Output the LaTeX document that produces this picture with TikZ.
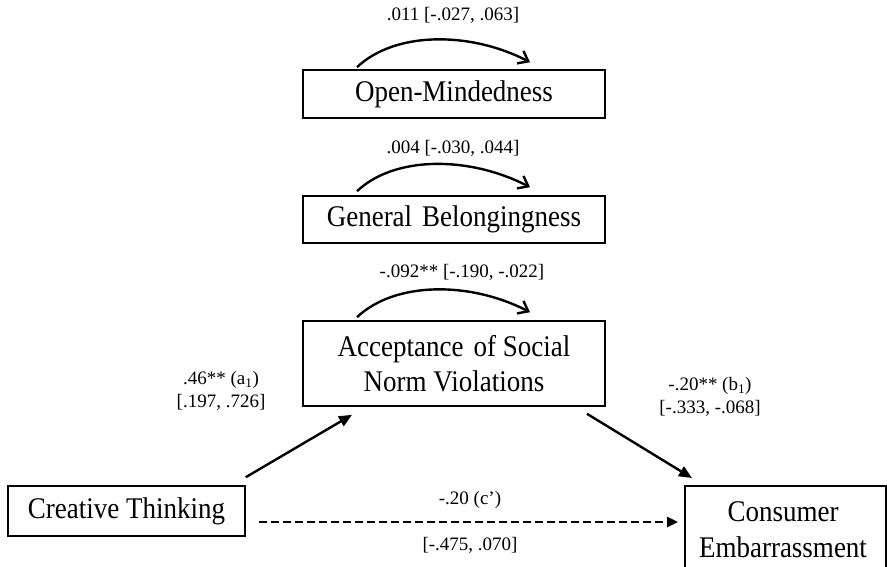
\documentclass[tikz,border=0pt]{standalone}
\usepackage{fontspec}
\setmainfont{Liberation Serif}
\newfontfamily\boxfont[FakeStretch=0.9]{Liberation Serif}
\usetikzlibrary{arrows.meta}
\begin{document}
\begin{tikzpicture}[x=1pt,y=-1pt,
  varbox/.style={draw, line width=1.6pt, inner sep=0pt, align=center, font=\boxfont\fontsize{30}{35}\selectfont},
  lbl/.style={inner sep=0pt, align=center, font=\fontsize{19}{23}\selectfont},
  arcarrow/.style={line width=2.4pt, -{Straight Barb[length=9pt,width=14pt,line width=2.4pt]}},
  patharrow/.style={line width=2.4pt, -{Triangle[length=13pt,width=11pt]}},
  dasharrow/.style={line width=2.4pt, dash pattern=on 8pt off 4pt, -{Triangle[length=11pt,width=10pt]}}]
\useasboundingbox (0,0) rectangle (887,567);
\clip (0,0) rectangle (887,567);
% boxes
\node[varbox, minimum width=302pt, minimum height=48pt] (om) at (454,94) {Open-Mindedness};
\node[varbox, minimum width=302pt, minimum height=47pt] (gb) at (454,219.5) {General\,\,Belongingness};
\node[varbox, minimum width=302pt, minimum height=85pt] (ac) at (454,363.5) {Acceptance\,\,of Social\\Norm Violations};
\node[varbox, minimum width=237pt, minimum height=50pt] (ct) at (126.5,511) {Creative Thinking};
\node[inner sep=0pt, align=center, font=\boxfont\fontsize{30}{36}\selectfont] (ce) at (783,530) {Consumer\\Embarrassment};
\draw[line width=1.6pt] (685,486) rectangle (886,620);
\coordinate (ceW) at (678,522);
% arcs
\draw[arcarrow] ([xshift=-97pt,yshift=2pt]om.north) .. controls +(38,-36) and +(-60,-31) .. ([xshift=76pt,yshift=7pt]om.north);
\draw[arcarrow] ([xshift=-97pt,yshift=4pt]gb.north) .. controls +(38,-36) and +(-60,-31) .. ([xshift=76pt,yshift=8pt]gb.north);
\draw[arcarrow] ([xshift=-97pt,yshift=3pt]ac.north) .. controls +(38,-36) and +(-60,-31) .. ([xshift=76pt,yshift=8pt]ac.north);
% arc labels
\node[lbl] (l1) at (453,15) {.011 [-.027, .063]};
\node[lbl] (l2) at (453,148) {.004 [-.030, .044]};
\node[lbl] (l3) at (462,272) {-.092** [-.190, -.022]};
% paths
\draw[patharrow] ([xshift=0pt,yshift=8pt]ct.north east) -- ([xshift=-102pt,yshift=-8pt]ac.south);
\draw[patharrow] ([xshift=133pt,yshift=-7pt]ac.south) -- (692,478);
\draw[dasharrow] ([xshift=13pt,yshift=-11pt]ct.east) -- (ceW);
% path labels
\node[lbl] (la) at (221,391) {.46** (a\textsubscript{1})\\{}[.197, .726]};
\node[lbl] (lb) at (710,397) {-.20** (b\textsubscript{1})\\{}[-.333, -.068]};
\node[lbl] (lc1) at (470,500) {-.20 (c’)};
\node[lbl] (lc2) at (470,545) {[-.475, .070]};
\end{tikzpicture}
\end{document}
